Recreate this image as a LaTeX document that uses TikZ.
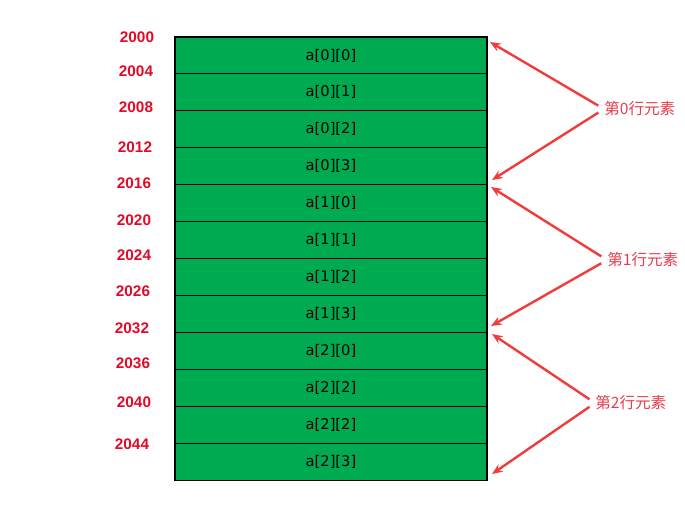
\documentclass[tikz,border=0pt]{standalone}
\usepackage{fontspec}
\setmainfont{DejaVu Sans}
\newfontfamily\addrfont{Liberation Sans}
\newfontfamily\cjkfont{Noto Sans CJK SC}
\usepackage{xcolor}
\usetikzlibrary{arrows.meta}
\usetikzlibrary{positioning}

\definecolor{cellgreen}{RGB}{0,170,80}
\definecolor{addrred}{RGB}{225,10,40}
\definecolor{arrowred}{RGB}{240,60,60}
\definecolor{notered}{RGB}{230,60,75}

\begin{document}
\begin{tikzpicture}
        [x=0.75pt,y=-0.75pt,
        cell/.style={rectangle,draw=black,fill=cellgreen,line width=0.8pt,minimum width=234pt,minimum height=27.69pt,inner sep=0pt,text centered,font=\fontsize{11}{13}\selectfont},
        addr/.style={text=addrred,font=\addrfont\bfseries\fontsize{11.5}{13}\selectfont,inner sep=0pt},
        note/.style={text=notered,font=\cjkfont\fontsize{11.7}{13}\selectfont,inner sep=0pt,anchor=west},
        to/.style={-{Stealth[length=8pt,width=6.5pt]},draw=arrowred,line width=1.8pt,shorten <=5pt}]

\useasboundingbox (0,0) rectangle (685,526);

% cells
\node[cell] at (331,55.46) (c00) {a[0][0]};
\node[cell] at (331,92.38) (c01) {a[0][1]};
\node[cell] at (331,129.30) (c02) {a[0][2]};
\node[cell] at (331,166.22) (c03) {a[0][3]};
\node[cell] at (331,203.14) (c10) {a[1][0]};
\node[cell] at (331,240.06) (c11) {a[1][1]};
\node[cell] at (331,276.98) (c12) {a[1][2]};
\node[cell] at (331,313.90) (c13) {a[1][3]};
\node[cell] at (331,350.82) (c20) {a[2][0]};
\node[cell] at (331,387.74) (c21) {a[2][2]};
\node[cell] at (331,424.66) (c22) {a[2][2]};
\node[cell] at (331,461.58) (c23) {a[2][3]};

% addresses
\node[addr] at (137,37) (a2000) {2000};
\node[addr] at (136,71) (a2004) {2004};
\node[addr] at (136,107) (a2008) {2008};
\node[addr] at (135,147) (a2012) {2012};
\node[addr] at (134,183) (a2016) {2016};
\node[addr] at (134,220) (a2020) {2020};
\node[addr] at (134,255) (a2024) {2024};
\node[addr] at (133,291) (a2026) {2026};
\node[addr] at (132,328) (a2032) {2032};
\node[addr] at (133,363) (a2036) {2036};
\node[addr] at (134,402) (a2040) {2040};
\node[addr] at (132,444) (a2044) {2044};

% row notes
\node[note] at (604,109) (row0) {第0行元素};
\node[note] at (607,260) (row1) {第1行元素};
\node[note] at (595,403) (row2) {第2行元素};

% arrow ends
\coordinate (t0a) at (490,42);
\coordinate (t0b) at (492,180);
\coordinate (t1a) at (491,187);
\coordinate (t1b) at (491,326);
\coordinate (t2a) at (492,334);
\coordinate (t2b) at (492,474);

%arrows
\draw[to] (row0.west) -- (t0a);
\draw[to] (row0.west) -- (t0b);
\draw[to] (row1.west) -- (t1a);
\draw[to] (row1.west) -- (t1b);
\draw[to] (row2.west) -- (t2a);
\draw[to] (row2.west) -- (t2b);

\end{tikzpicture}
\end{document}
